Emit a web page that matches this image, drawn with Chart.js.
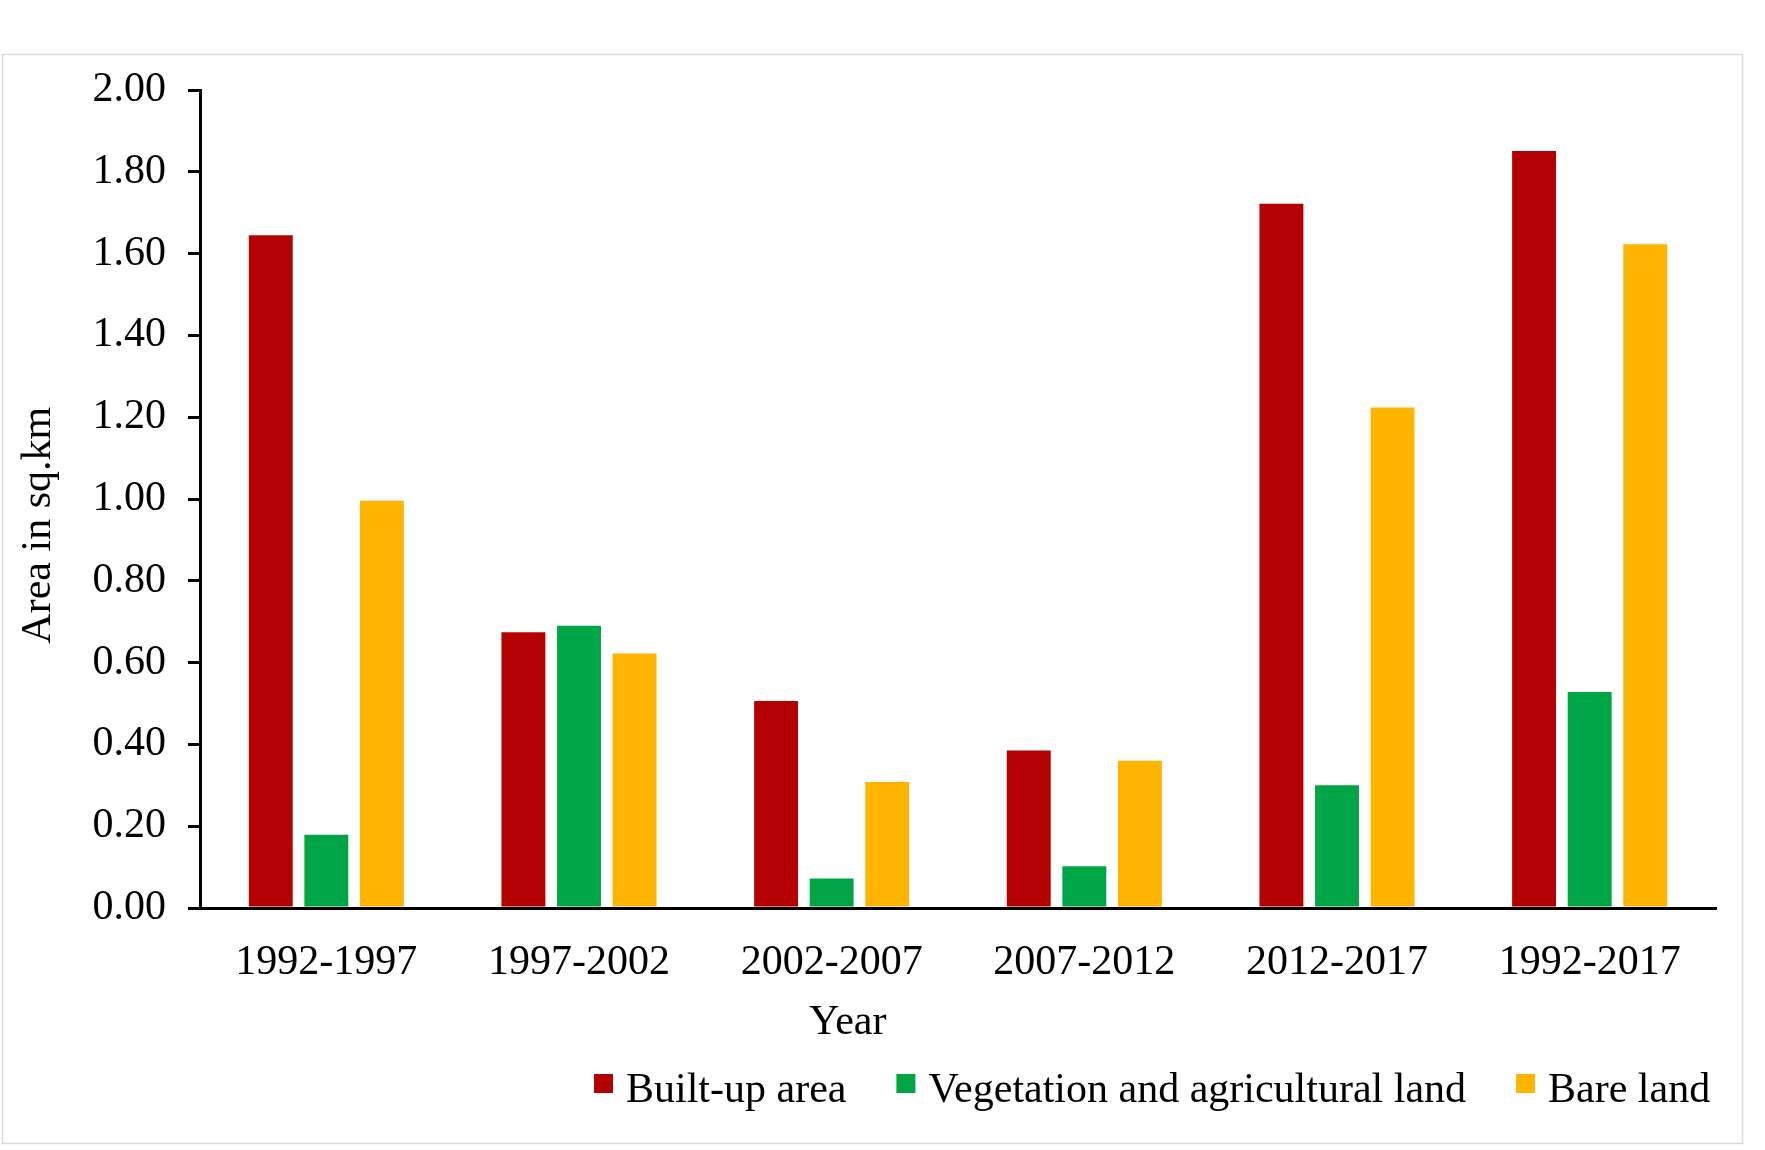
<!DOCTYPE html>
<html>
<head>
<meta charset="utf-8">
<script src="https://cdn.jsdelivr.net/npm/chart.js@4.4.1/dist/chart.umd.min.js"></script>
<style>
  html, body { margin: 0; padding: 0; background: #ffffff; }
  #wrap { width: 1765px; height: 1150px; position: relative; }
  canvas { display: block; }
</style>
</head>
<body>
<div id="wrap"><canvas id="chart" width="1765" height="1150"></canvas></div>
<script>
// ---- Data ----
const categories = ['1992-1997', '1997-2002', '2002-2007', '2007-2012', '2012-2017', '1992-2017'];
const builtUpArea = [1.645, 0.674, 0.506, 0.385, 1.722, 1.851];
const vegetationLand = [0.179, 0.690, 0.072, 0.102, 0.300, 0.528];
const bareLand = [0.996, 0.622, 0.308, 0.360, 1.224, 1.623];
const seriesNames = ['Built-up area', 'Vegetation and agricultural land', 'Bare land'];
const seriesColors = ['#B40000', '#00A646', '#FFB400'];
const yTickLabels = ['0.00', '0.20', '0.40', '0.60', '0.80', '1.00', '1.20', '1.40', '1.60', '1.80', '2.00'];
const xAxisTitle = 'Year';
const yAxisTitle = 'Area in sq.km';

const FONT = '"Liberation Serif", "Times New Roman", Times, serif';
Chart.defaults.color = '#000000';
Chart.defaults.font.family = FONT;

const NBSP = '\u00A0';

const frameAndBackground = {
  id: 'frameAndBackground',
  beforeDraw(chart) {
    const ctx = chart.ctx;
    ctx.save();
    ctx.fillStyle = '#ffffff';
    ctx.fillRect(0, 0, chart.width, chart.height);
    ctx.strokeStyle = '#d9d9d9';
    ctx.lineWidth = 1.5;
    ctx.strokeRect(2.5, 54.5, 1740, 1089);
    ctx.restore();
  }
};

const bottomLegend = {
  id: 'bottomLegend',
  afterDraw(chart) {
    const ctx = chart.ctx;
    ctx.save();
    ctx.font = '42px ' + FONT;
    ctx.textBaseline = 'alphabetic';
    ctx.textAlign = 'left';
    let x = 594;
    const boxTop = 1074, box = 19, baseline = 1102;
    chart.data.datasets.forEach((ds) => {
      ctx.fillStyle = ds.backgroundColor;
      ctx.fillRect(x, boxTop, box, box);
      x += box + 13;
      ctx.fillStyle = '#000000';
      ctx.fillText(ds.label, x, baseline);
      x += ctx.measureText(ds.label).width + 50;
    });
    ctx.restore();
  }
};

const seriesValues = [builtUpArea, vegetationLand, bareLand];

new Chart(document.getElementById('chart'), {
  type: 'bar',
  data: {
    labels: categories,
    datasets: seriesNames.map((name, i) => ({
      label: name,
      data: seriesValues[i],
      backgroundColor: seriesColors[i],
      borderWidth: 0,
      categoryPercentage: 0.66,
      barPercentage: 0.79
    }))
  },
  options: {
    responsive: false,
    maintainAspectRatio: false,
    devicePixelRatio: 1,
    animation: false,
    layout: { padding: { top: 90, left: 0, right: 49, bottom: 102 } },
    plugins: {
      legend: { display: false },
      tooltip: { enabled: false },
      title: { display: false }
    },
    scales: {
      x: {
        offset: true,
        grid: { display: false, drawTicks: false },
        border: { display: true, color: '#000000', width: 3 },
        ticks: { font: { size: 42, family: FONT }, color: '#000000', padding: 30, maxRotation: 0, autoSkip: false },
        title: {
          display: true,
          text: xAxisTitle + NBSP.repeat(21),
          font: { size: 42, family: FONT },
          color: '#000000',
          padding: { top: 0, bottom: 0 }
        },
        afterFit(scale) { scale.height = 140; }
      },
      y: {
        min: 0,
        max: 2,
        ticks: {
          stepSize: 0.2,
          font: { size: 42, family: FONT },
          color: '#000000',
          padding: 22,
          callback: (value, index) => yTickLabels[index]
        },
        grid: {
          display: true,
          drawOnChartArea: false,
          drawTicks: true,
          tickLength: 12,
          color: '#000000',
          lineWidth: 3
        },
        border: { display: true, color: '#000000', width: 3 },
        title: {
          display: true,
          text: yAxisTitle + NBSP.repeat(5),
          font: { size: 42, family: FONT },
          color: '#000000',
          padding: { top: 14, bottom: 0 }
        },
        afterFit(scale) { scale.width = 200; }
      }
    }
  },
  plugins: [frameAndBackground, bottomLegend]
});
</script>
</body>
</html>
